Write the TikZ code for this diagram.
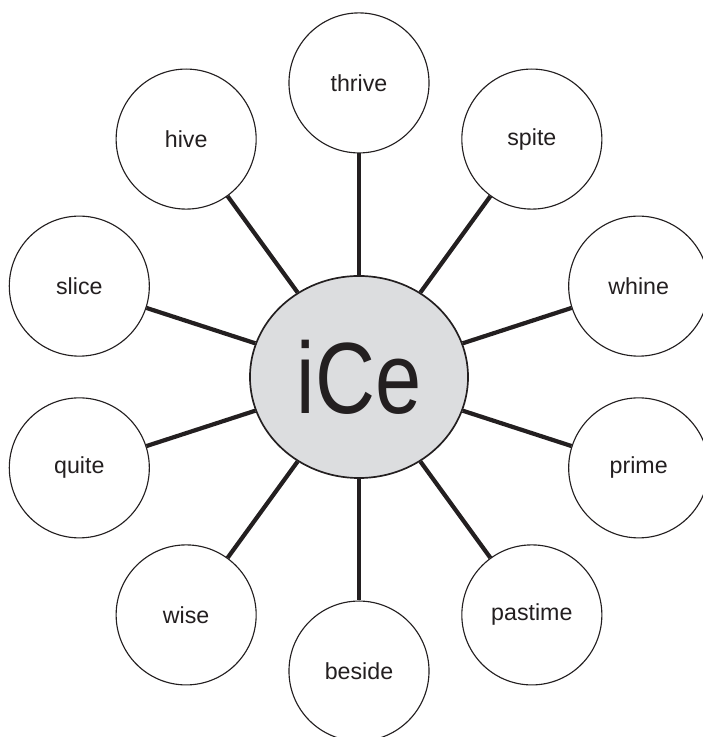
\documentclass[tikz,border=0pt]{standalone}
\usepackage{fontspec}
\setmainfont{Liberation Sans}
\usepackage{graphicx}
\usetikzlibrary{shapes.geometric}
\definecolor{inkline}{RGB}{35,31,32}
\definecolor{hubgray}{RGB}{220,221,223}

\begin{document}
\begin{tikzpicture}[
  x=0.025cm, y=0.025cm,
  every node/.style={circle, draw=inkline, line width=0.8pt, minimum size=3.5cm, inner sep=0pt,
    font=\fontsize{16.5}{20}\selectfont, text=inkline, fill=white},
  spoke/.style={draw=inkline, line width=3pt}
]
\useasboundingbox (0,0) rectangle (703,737);
\clip (0,0) rectangle (703,737);

\node[ellipse, fill=hubgray, minimum width=5.45cm, minimum height=5.05cm, line width=1.2pt,
  font=\fontsize{72}{72}\selectfont] (hub) at (359,360) {\scalebox{0.82}[1]{iCe}};

\foreach \ang/\word in {90/thrive, 54/spite, 18/whine, -18/prime, -54/pastime,
                        -90/beside, -126/wise, -162/quite, 162/slice, 126/hive}
{
  \node (\word) at ([shift={(\ang:7.35cm)}]hub.center) {\word};
  \draw[spoke] (hub) -- (\word);
}
\end{tikzpicture}
\end{document}
